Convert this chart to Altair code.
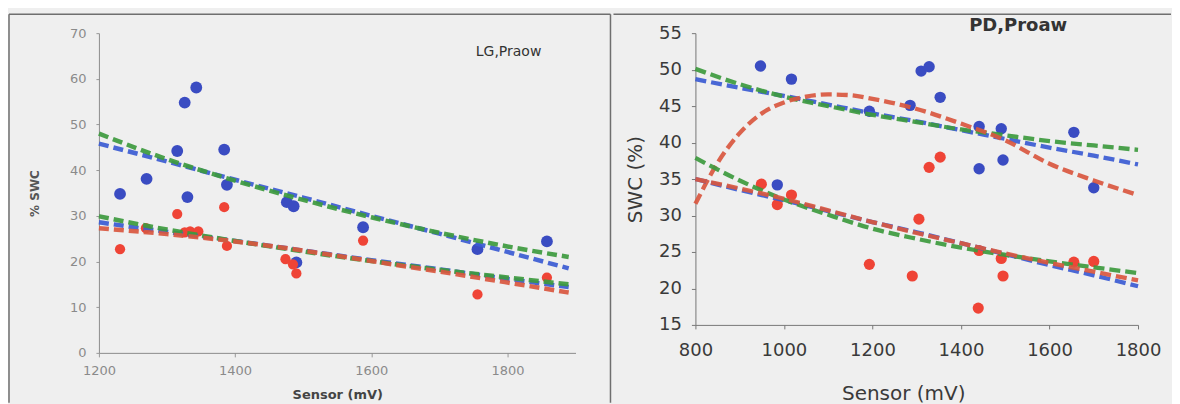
import altair as alt
import pandas as pd

# ---------------- Left panel: LG, Praow ----------------
lg_blue_sensor = [1231, 1270, 1315, 1326, 1343, 1330, 1384, 1388, 1476, 1486, 1490, 1588, 1756, 1858]
lg_blue_swc = [34.8, 38.1, 44.2, 54.8, 58.1, 34.1, 44.5, 36.8, 33.0, 32.1, 19.8, 27.5, 22.7, 24.4]
lg_red_sensor = [1231, 1269, 1315, 1326, 1334, 1346, 1384, 1388, 1474, 1485, 1490, 1588, 1756, 1858]
lg_red_swc = [22.7, 27.3, 30.4, 26.4, 26.6, 26.6, 31.9, 23.4, 20.5, 19.4, 17.4, 24.6, 12.8, 16.5]

lg_line_sensor = [1200, 1300, 1400, 1500, 1600, 1700, 1800, 1890]
lg_upper_blue = [45.8, 41.9, 37.9, 34.0, 30.0, 26.1, 22.1, 18.5]
lg_upper_green = [48.0, 42.4, 37.7, 33.5, 29.7, 26.3, 23.3, 21.0]
lg_lower_blue = [28.6, 26.5, 24.5, 22.4, 20.3, 18.3, 16.2, 14.4]
lg_lower_green = [29.9, 27.0, 24.5, 22.2, 20.1, 18.2, 16.5, 15.0]
lg_lower_red = [27.3, 26.0, 24.4, 22.4, 20.1, 17.8, 15.4, 13.2]

# ---------------- Right panel: PD, Proaw ----------------
pd_blue_sensor = [947, 985, 1017, 1193, 1285, 1310, 1328, 1353, 1441, 1441, 1491, 1495, 1655, 1700]
pd_blue_swc = [50.5, 34.2, 48.7, 44.3, 45.1, 49.8, 50.4, 46.2, 42.2, 36.4, 41.9, 37.6, 41.4, 33.8]
pd_red_sensor = [949, 985, 1017, 1193, 1290, 1305, 1328, 1353, 1439, 1441, 1491, 1495, 1655, 1700]
pd_red_swc = [34.3, 31.5, 32.8, 23.3, 21.7, 29.5, 36.6, 38.0, 17.3, 25.2, 24.1, 21.7, 23.6, 23.7]

pd_line_sensor = [800, 900, 1000, 1100, 1200, 1300, 1400, 1500, 1600, 1700, 1800]
pd_upper_blue = [48.7, 47.5, 46.4, 45.2, 44.0, 42.9, 41.7, 40.5, 39.3, 38.2, 37.0]
pd_upper_green = [50.1, 48.0, 46.3, 45.0, 43.8, 42.8, 41.8, 41.0, 40.2, 39.6, 39.0]
pd_lower_blue = [35.0, 33.5, 32.1, 30.6, 29.1, 27.7, 26.2, 24.7, 23.2, 21.8, 20.3]
pd_lower_green = [37.9, 34.8, 32.2, 30.1, 28.2, 26.8, 25.6, 24.6, 23.7, 22.9, 22.1]
pd_lower_red = [35.0, 33.7, 32.3, 30.7, 29.1, 27.6, 26.2, 24.8, 23.5, 22.3, 21.1]
pd_curve_sensor = [800, 850, 900, 950, 1000, 1050, 1100, 1150, 1200, 1300, 1400, 1500, 1600, 1700, 1800]
pd_upper_red = [31.6, 37.2, 41.3, 44.0, 45.5, 46.3, 46.6, 46.5, 46.0, 44.6, 42.6, 40.3, 37.1, 34.8, 32.8]

FONT = "DejaVu Sans"
PT_COLORS = {"blue": "#3a4cc2", "red": "#ef4436"}
LN_COLORS = {"blue": "#3b5bd2", "green": "#3d9a3e", "red": "#d9573f"}


def points_df(sensor, swc, series):
    return pd.DataFrame({"sensor": sensor, "swc": swc, "series": series})


def line_df(sensor, swc, fit, group):
    return pd.DataFrame({"sensor": sensor, "swc": swc, "fit": fit, "grp": group + fit})


lg_points = pd.concat([points_df(lg_blue_sensor, lg_blue_swc, "blue"),
                       points_df(lg_red_sensor, lg_red_swc, "red")])
lg_lines = pd.concat([
    line_df(lg_line_sensor, lg_upper_blue, "blue", "u"),
    line_df(lg_line_sensor, lg_upper_green, "green", "u"),
    line_df(lg_line_sensor, lg_lower_blue, "blue", "l"),
    line_df(lg_line_sensor, lg_lower_green, "green", "l"),
    line_df(lg_line_sensor, lg_lower_red, "red", "l"),
])
pd_points = pd.concat([points_df(pd_blue_sensor, pd_blue_swc, "blue"),
                       points_df(pd_red_sensor, pd_red_swc, "red")])
pd_lines = pd.concat([
    line_df(pd_line_sensor, pd_upper_blue, "blue", "u"),
    line_df(pd_line_sensor, pd_upper_green, "green", "u"),
    line_df(pd_curve_sensor, pd_upper_red, "red", "u"),
    line_df(pd_line_sensor, pd_lower_blue, "blue", "l"),
    line_df(pd_line_sensor, pd_lower_green, "green", "l"),
    line_df(pd_line_sensor, pd_lower_red, "red", "l"),
])


def frame_rule(x, x2, y, y2):
    return alt.Chart(alt.Data(values=[{}])).mark_rule(color="#6f6f6f", strokeWidth=1.5).encode(
        x=alt.value(x), x2=alt.value(x2), y=alt.value(y), y2=alt.value(y2))


def panel(points, lines, xdom, ydom, xaxis, yaxis, width, height,
          pt_sizes, dash, lw, label, label_xy, label_style, frames):
    x = alt.X("sensor:Q", scale=alt.Scale(domain=xdom, nice=False, zero=False), axis=xaxis)
    y = alt.Y("swc:Q", scale=alt.Scale(domain=ydom, nice=False, zero=False), axis=yaxis)
    pts = alt.Chart(points).mark_circle(opacity=1).encode(
        x=x, y=y,
        color=alt.Color("series:N", scale=alt.Scale(domain=list(PT_COLORS), range=list(PT_COLORS.values())), legend=None),
        size=alt.Size("series:N", scale=alt.Scale(domain=list(PT_COLORS), range=pt_sizes), legend=None),
    )
    lns = alt.Chart(lines).mark_line(strokeDash=dash, strokeWidth=lw, opacity=0.92, interpolate="monotone").encode(
        x=x, y=y,
        color=alt.Color("fit:N", scale=alt.Scale(domain=list(LN_COLORS), range=list(LN_COLORS.values())), legend=None),
        detail="grp:N",
        order=alt.Order("sensor:Q"),
    )
    txt = alt.Chart(alt.Data(values=[{}])).mark_text(font=FONT, **label_style).encode(
        x=alt.value(label_xy[0]), y=alt.value(label_xy[1]), text=alt.value(label))
    layers = [pts, lns, txt] + [frame_rule(*f) for f in frames]
    return alt.layer(*layers).resolve_scale(color="independent", size="independent").properties(
        width=width, height=height)


left_xaxis = alt.Axis(values=[1200, 1400, 1600, 1800], format="d", title="Sensor (mV)", grid=False,
                      labelFont=FONT, labelFontSize=13, labelColor="#8a8a8a",
                      titleFont=FONT, titleFontSize=13, titleFontWeight="bold", titleColor="#444",
                      titlePadding=11, tickSize=4, labelPadding=8, tickColor="#999",
                      domainColor="#8c8c8c", labelFlush=False, labelOverlap=False)
left_yaxis = alt.Axis(values=[0, 10, 20, 30, 40, 50, 60, 70], format="d", title="% SWC", grid=False,
                      labelFont=FONT, labelFontSize=13, labelColor="#8a8a8a",
                      titleFont=FONT, titleFontSize=12, titleFontWeight="bold", titleColor="#555",
                      titlePadding=28, tickSize=3, labelPadding=10, tickColor="#999",
                      domainColor="#8c8c8c", labelOverlap=False)
right_xaxis = alt.Axis(values=[800, 1000, 1200, 1400, 1600, 1800], format="d", title="Sensor (mV)", grid=False,
                       labelFont=FONT, labelFontSize=18, labelColor="#3a3a3a",
                       titleFont=FONT, titleFontSize=20, titleFontWeight="normal", titleColor="#3a3a3a",
                       titlePadding=24, titleX=208, tickSize=4, labelPadding=13, tickColor="#777",
                       domainColor="#777", labelFlush=False, labelOverlap=False)
right_yaxis = alt.Axis(values=[15, 20, 25, 30, 35, 40, 45, 50, 55], format="d", title="SWC (%)", grid=False,
                       labelFont=FONT, labelFontSize=18, labelColor="#3a3a3a",
                       titleFont=FONT, titleFontSize=20, titleFontWeight="normal", titleColor="#3a3a3a",
                       titlePadding=13, tickSize=4, labelPadding=10, tickColor="#777",
                       domainColor="#777", labelOverlap=False)

left = panel(lg_points, lg_lines, [1200, 1900], [0, 70], left_xaxis, left_yaxis,
             477, 320, [140, 105], [10, 5], 4.5, "LG,Praow", (410, 19),
             dict(fontSize=14, color="#333", align="center", baseline="middle"),
             [(-90, 512, -19, -19), (-90, -90, -19, 370), (512, 512, -19, 370)])

right = panel(pd_points, pd_lines, [800, 1800], [15, 55], right_xaxis, right_yaxis,
              443, 292, [130, 125], [11, 5], 4.3, "PD,Proaw", (323, -7),
              dict(fontSize=18, fontWeight="bold", color="#333", align="center", baseline="middle"),
              [(-82, 476, -19, -19)])

chart = alt.hconcat(left, right, spacing=1).properties(
    padding={"left": 0, "top": 5, "right": 0, "bottom": 0},
    background="#efefef",
).configure_view(stroke=None)

chart.save("out.html", embed_options={"renderer": "svg", "actions": False})
